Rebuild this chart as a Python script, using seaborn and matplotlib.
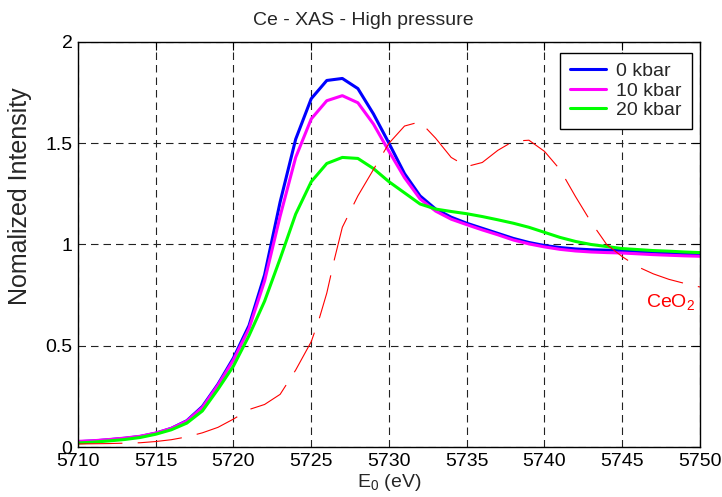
import matplotlib
matplotlib.use("Agg")
import matplotlib.pyplot as plt
import seaborn as sns
import pandas as pd
from matplotlib.ticker import FormatStrFormatter

# energy grid (eV) shared by the three pressure scans
energy = list(range(5710, 5751))

kbar_0 = [0.026, 0.030, 0.036, 0.043, 0.052, 0.068, 0.092, 0.13, 0.20, 0.31,
          0.44, 0.60, 0.85, 1.21, 1.52, 1.72, 1.81, 1.82, 1.77, 1.645,
          1.50, 1.35, 1.24, 1.175, 1.135, 1.105, 1.08, 1.055, 1.03, 1.01,
          0.995, 0.985, 0.978, 0.974, 0.972, 0.970, 0.966, 0.962, 0.958, 0.955,
          0.952]
kbar_10 = [0.028, 0.031, 0.037, 0.044, 0.053, 0.069, 0.092, 0.128, 0.195, 0.305,
           0.43, 0.585, 0.82, 1.14, 1.43, 1.62, 1.71, 1.735, 1.70, 1.595,
           1.46, 1.33, 1.225, 1.165, 1.125, 1.098, 1.072, 1.048, 1.022, 1.003,
           0.988, 0.976, 0.968, 0.963, 0.960, 0.958, 0.954, 0.950, 0.947, 0.944,
           0.942]
kbar_20 = [0.020, 0.024, 0.030, 0.037, 0.047, 0.063, 0.085, 0.118, 0.178, 0.285,
           0.40, 0.55, 0.72, 0.93, 1.15, 1.31, 1.40, 1.43, 1.425, 1.375,
           1.31, 1.255, 1.20, 1.175, 1.163, 1.152, 1.138, 1.122, 1.105, 1.085,
           1.06, 1.035, 1.015, 1.0, 0.99, 0.98, 0.975, 0.97, 0.967, 0.963,
           0.96]

# CeO2 reference spectrum
ceo2_energy = [5710, 5711, 5712, 5713, 5714, 5715, 5716, 5717, 5718, 5719,
               5720, 5721, 5722, 5723, 5724, 5725, 5725.5, 5726, 5726.5, 5727,
               5728, 5729, 5730, 5731, 5732, 5733, 5734, 5735, 5736, 5737,
               5738, 5739, 5740, 5741, 5742, 5743, 5744, 5745, 5746, 5747,
               5748, 5749, 5750]
ceo2 = [0.015, 0.016, 0.017, 0.019, 0.021, 0.027, 0.036, 0.05, 0.07, 0.097,
        0.138, 0.185, 0.21, 0.26, 0.38, 0.52, 0.63, 0.76, 0.93, 1.085,
        1.24, 1.37, 1.50, 1.585, 1.606, 1.525, 1.43, 1.385, 1.405, 1.465,
        1.51, 1.515, 1.46, 1.37, 1.236, 1.11, 1.0, 0.94, 0.89, 0.855,
        0.828, 0.808, 0.79]

labels = ["0 kbar", "10 kbar", "20 kbar"]
colors = {"0 kbar": "#0000ff", "10 kbar": "#ff00ff", "20 kbar": "#00ff00"}

df = pd.DataFrame({
    "energy": energy * 3,
    "intensity": kbar_0 + kbar_10 + kbar_20,
    "pressure": [labels[0]] * len(energy) + [labels[1]] * len(energy) + [labels[2]] * len(energy),
})
ref = pd.DataFrame({"energy": ceo2_energy, "intensity": ceo2})

sns.set_style("white")
plt.rcParams["font.family"] = ["Liberation Sans", "DejaVu Sans"]
plt.rcParams["mathtext.default"] = "regular"
plt.rcParams["lines.scale_dashes"] = False

fig = plt.figure(figsize=(7.22, 4.97), dpi=100)
ax = fig.add_axes([0.108, 0.1006, 0.8615, 0.8149])

sns.lineplot(data=df, x="energy", y="intensity", hue="pressure", hue_order=labels,
             palette=colors, lw=2.2, errorbar=None, legend=False, ax=ax)
sns.lineplot(data=ref, x="energy", y="intensity", color="#ff0000", lw=0.8,
             linestyle=(0, (32, 11)), errorbar=None, ax=ax)

ax.set_xlim(5710, 5750)
ax.set_ylim(0, 2)
ax.set_xticks(range(5710, 5751, 5))
ax.set_yticks([0, 0.5, 1, 1.5, 2])
ax.yaxis.set_major_formatter(FormatStrFormatter("%g"))
ax.set_axisbelow(True)
ax.grid(True, color="#222222", linestyle=(0, (5.4, 3.6)), linewidth=0.8)
ax.tick_params(direction="in", length=6, width=0.8, top=True, right=True,
               labelsize=14, colors="k")
ax.tick_params(axis="x", pad=4)
ax.tick_params(axis="y", pad=4)
for s in ax.spines.values():
    s.set_color("k")
    s.set_linewidth(1.0)

ax.set_xlabel("E$_0$ (eV)", fontsize=14, labelpad=2)
ax.set_ylabel("")
fig.text(0.028, 0.606, "Nomalized Intensity", rotation=90, fontsize=18,
         ha="center", va="center")
fig.text(0.503, 0.958, "Ce - XAS - High pressure", fontsize=14,
         ha="center", va="center")
ax.text(5746.5, 0.691, "CeO$_2$", color="#ff0000", fontsize=14, ha="left", va="baseline")

leg = ax.legend(ax.get_lines()[:3], labels, loc="upper right",
                bbox_to_anchor=(0.9867, 0.9736), borderaxespad=0, fontsize=14,
                handlelength=1.85, handletextpad=0.55, labelspacing=0.1,
                borderpad=0.5, fancybox=False, edgecolor="k", framealpha=1)
leg.get_frame().set_linewidth(1.0)

fig.savefig("out.png", dpi=100)
